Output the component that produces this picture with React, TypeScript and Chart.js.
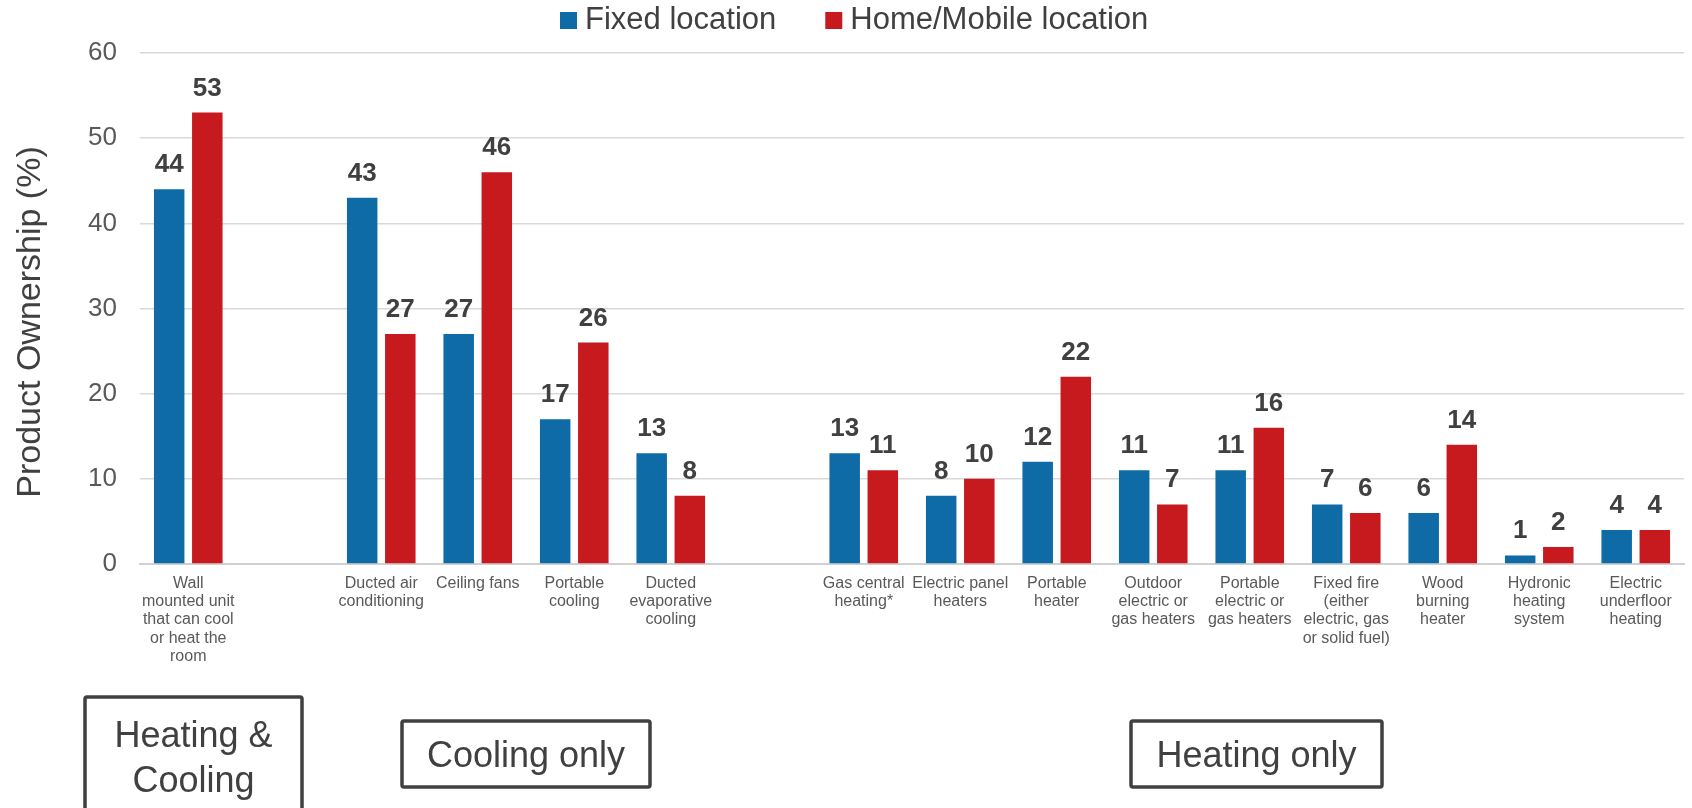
import React, { useEffect, useRef } from "react";
import { Chart, registerables } from "chart.js";

Chart.register(...registerables);

const categories: (string | string[])[] = [
  ["Wall", "mounted unit", "that can cool", "or heat the", "room"],
  "",
  ["Ducted air", "conditioning"],
  ["Ceiling fans"],
  ["Portable", "cooling"],
  ["Ducted", "evaporative", "cooling"],
  "",
  ["Gas central", "heating*"],
  ["Electric panel", "heaters"],
  ["Portable", "heater"],
  ["Outdoor", "electric or", "gas heaters"],
  ["Portable", "electric or", "gas heaters"],
  ["Fixed fire", "(either", "electric, gas", "or solid fuel)"],
  ["Wood", "burning", "heater"],
  ["Hydronic", "heating", "system"],
  ["Electric", "underfloor", "heating"],
];

const fixedLocation: (number | null)[] = [44, null, 43, 27, 17, 13, null, 13, 8, 12, 11, 11, 7, 6, 1, 4];
const homeMobileLocation: (number | null)[] = [53, null, 27, 46, 26, 8, null, 11, 10, 22, 7, 16, 6, 14, 2, 4];

const seriesNames = ["Fixed location", "Home/Mobile location"];
const seriesColors = ["#0E6BA6", "#C61A1E"];

const yMin = 0;
const yMax = 60;
const yStep = 10;
const yTitle = "Product Ownership (%)";

const groupHeadings: string[][] = [["Heating &", "Cooling"], ["Cooling only"], ["Heating only"]];

const FONT = '"Liberation Sans", Arial, Helvetica, sans-serif';
const TEXT_DARK = "#404040";
const TEXT_GREY = "#595959";

const overlayPlugin = {
  id: "overlay",
  afterDatasetsDraw(chart: any) {
    const ctx = chart.ctx as CanvasRenderingContext2D;
    ctx.save();
    ctx.font = `bold 26px ${FONT}`;
    ctx.fillStyle = TEXT_DARK;
    ctx.textAlign = "center";
    ctx.textBaseline = "alphabetic";
    chart.data.datasets.forEach((ds: any, di: number) => {
      const meta = chart.getDatasetMeta(di);
      meta.data.forEach((el: any, i: number) => {
        const v = ds.data[i];
        if (v === null || v === undefined) return;
        ctx.fillText(String(v), el.x, el.y - 17);
      });
    });
    ctx.restore();
  },
  afterDraw(chart: any) {
    const ctx = chart.ctx as CanvasRenderingContext2D;
    ctx.save();
    // Legend
    ctx.font = `31px ${FONT}`;
    ctx.textBaseline = "alphabetic";
    ctx.textAlign = "left";
    let x = 560;
    seriesNames.forEach((name, i) => {
      ctx.fillStyle = seriesColors[i];
      ctx.fillRect(x, 12, 17, 17);
      ctx.fillStyle = TEXT_DARK;
      ctx.fillText(name, x + 25, 29);
      x += 25 + ctx.measureText(name).width + 49;
    });

    // Y axis title
    ctx.save();
    ctx.translate(40, 322);
    ctx.rotate(-Math.PI / 2);
    ctx.font = `34px ${FONT}`;
    ctx.fillStyle = TEXT_DARK;
    ctx.textAlign = "center";
    ctx.textBaseline = "alphabetic";
    ctx.fillText(yTitle, 0, 0);
    ctx.restore();

    // Group boxes
    const boxes = [
      { x: 85, y: 697, w: 217, h: 125, cx: 193.5, baselines: [747, 792] },
      { x: 402, y: 721, w: 248, h: 66, cx: 526, baselines: [767] },
      { x: 1131, y: 721, w: 251, h: 66, cx: 1256.5, baselines: [767] },
    ];
    boxes.forEach((b, bi) => {
      ctx.lineWidth = 3.5;
      ctx.strokeStyle = "#404040";
      ctx.beginPath();
      (ctx as any).roundRect ? (ctx as any).roundRect(b.x, b.y, b.w, b.h, 2) : ctx.rect(b.x, b.y, b.w, b.h);
      ctx.stroke();
      ctx.font = `36px ${FONT}`;
      ctx.fillStyle = TEXT_DARK;
      ctx.textAlign = "center";
      ctx.textBaseline = "alphabetic";
      groupHeadings[bi].forEach((line, li) => {
        ctx.fillText(line, b.cx, b.baselines[li]);
      });
    });
    ctx.restore();
  },
};

export default function App() {
  const canvasRef = useRef<HTMLCanvasElement | null>(null);

  useEffect(() => {
    document.body.style.margin = "0";
    document.body.style.overflow = "hidden";
    const canvas = canvasRef.current;
    if (!canvas) return;
    const chart = new Chart(canvas, {
      type: "bar",
      data: {
        labels: categories as any,
        datasets: [
          {
            label: seriesNames[0],
            data: fixedLocation,
            backgroundColor: seriesColors[0],
            categoryPercentage: 0.79,
            barPercentage: 0.8,
          },
          {
            label: seriesNames[1],
            data: homeMobileLocation,
            backgroundColor: seriesColors[1],
            categoryPercentage: 0.79,
            barPercentage: 0.8,
          },
        ],
      },
      options: {
        responsive: false,
        animation: false,
        devicePixelRatio: 1,
        layout: { padding: { top: 53, right: 8, left: 0, bottom: 0 } },
        plugins: {
          legend: { display: false },
          tooltip: { enabled: false },
          title: { display: false },
        },
        scales: {
          x: {
            grid: { display: false, drawTicks: false },
            border: { display: true, color: "#d0d0d0", width: 2 },
            ticks: {
              autoSkip: false,
              maxRotation: 0,
              minRotation: 0,
              padding: 10,
              color: TEXT_GREY,
              font: { family: FONT, size: 16, lineHeight: 1.15 },
            },
            afterFit(scale: any) {
              scale.height = 244;
            },
          },
          y: {
            min: yMin,
            max: yMax,
            grid: { color: "#d9d9d9", lineWidth: 1.5, drawTicks: false },
            border: { display: false },
            ticks: {
              stepSize: yStep,
              padding: 23,
              color: TEXT_GREY,
              font: { family: FONT, size: 26 },
            },
            afterFit(scale: any) {
              scale.width = 140;
            },
          },
        },
      },
      plugins: [overlayPlugin],
    });
    return () => chart.destroy();
  }, []);

  return (
    <div style={{ width: 1692, height: 808, background: "#fff" }}>
      <canvas ref={canvasRef} width={1692} height={808} style={{ display: "block" }} />
    </div>
  );
}
